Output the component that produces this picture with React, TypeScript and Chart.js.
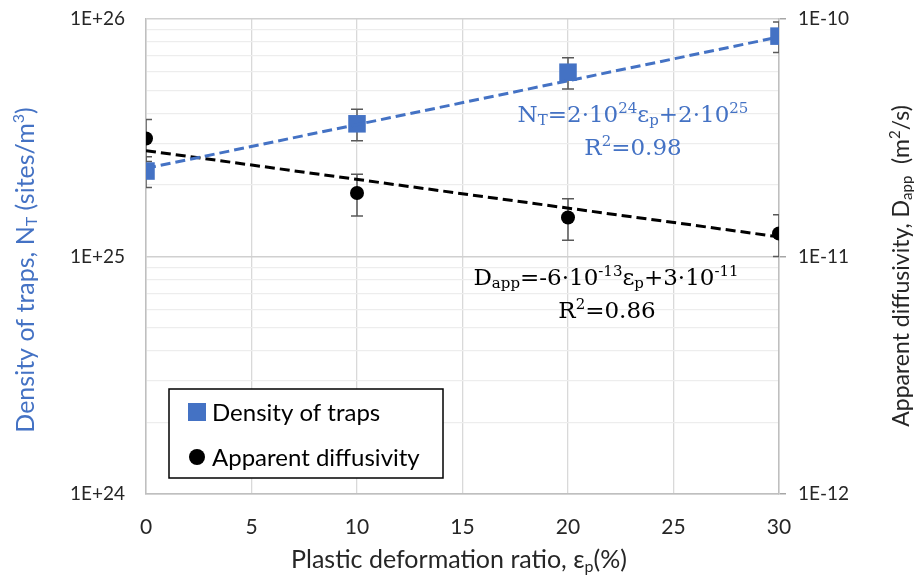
import { useEffect, useRef } from 'react';
import { Chart, registerables } from 'chart.js';

Chart.register(...registerables);

// Measured series: plastic strain (%) vs trap density and apparent diffusivity
const strainPct = [0, 10, 20, 30];
const trapDensity = [2.29e25, 3.62e25, 5.97e25, 8.47e25];
const trapDensityErr = [0.34e25, 0.55e25, 0.9e25, 1.25e25];
const appDiffusivity = [3.14e-11, 1.85e-11, 1.46e-11, 1.25e-11];
const appDiffusivityErr = [0.63e-11, 0.37e-11, 0.29e-11, 0.25e-11];

// Fitted trend lines (end points over the strain range)
const trendStrain = [0, 30];
const trapTrend = [2.35e25, 8.4e25];
const diffusivityTrend = [2.79e-11, 1.21e-11];

// Axis ranges (decade exponents) and x tick step
const leftDecades = [24, 26];
const rightDecades = [-12, -10];
const xRange = [0, 30];
const xTickStep = 5;

const BLUE = '#4472C4';
const SANS = 'Lato, "Liberation Sans", sans-serif';
const SERIF = '"DejaVu Serif", serif';

type Seg = { t: string; s?: 'sub' | 'sup' };

const isDecade = (v: number) => {
  const l = Math.log10(v);
  return Math.abs(l - Math.round(l)) < 1e-6;
};
const fmtDecade = (v: number) => {
  const e = Math.round(Math.log10(v));
  return `1E${e >= 0 ? '+' : ''}${e}`;
};

function logTicks(lo: number, hi: number) {
  const ticks: { value: number }[] = [];
  for (let e = lo; e < hi; e++) {
    for (let m = 1; m <= 9; m++) {
      ticks.push({ value: Number((m * Math.pow(10, e)).toPrecision(12)) });
    }
  }
  ticks.push({ value: Number(Math.pow(10, hi).toPrecision(12)) });
  return ticks;
}

function segFont(size: number, family: string, s?: string) {
  return `${s ? Math.round(size * 0.65) : size}px ${family}`;
}

function richWidth(ctx: CanvasRenderingContext2D, segs: Seg[], size: number, family: string) {
  let w = 0;
  for (const seg of segs) {
    ctx.font = segFont(size, family, seg.s);
    w += ctx.measureText(seg.t).width;
  }
  return w;
}

// Draws a run of text with sub/superscripts, centred on x, baseline at y
function drawRich(
  ctx: CanvasRenderingContext2D,
  segs: Seg[],
  x: number,
  y: number,
  size: number,
  family: string,
  color: string
) {
  const w = richWidth(ctx, segs, size, family);
  let cx = x - w / 2;
  ctx.fillStyle = color;
  ctx.textBaseline = 'alphabetic';
  ctx.textAlign = 'left';
  for (const seg of segs) {
    ctx.font = segFont(size, family, seg.s);
    const dy = seg.s === 'sup' ? -size * 0.38 : seg.s === 'sub' ? size * 0.14 : 0;
    ctx.fillText(seg.t, cx, y + dy);
    cx += ctx.measureText(seg.t).width;
  }
}

function drawRichRotated(
  ctx: CanvasRenderingContext2D,
  segs: Seg[],
  cx: number,
  cy: number,
  size: number,
  family: string,
  color: string
) {
  ctx.save();
  ctx.translate(cx, cy);
  ctx.rotate(-Math.PI / 2);
  drawRich(ctx, segs, 0, size * 0.35, size, family, color);
  ctx.restore();
}

const leftTitle: Seg[] = [
  { t: 'Density of traps, N' },
  { t: 'T', s: 'sub' },
  { t: ' (sites/m' },
  { t: '3', s: 'sup' },
  { t: ')' },
];
const rightTitle: Seg[] = [
  { t: 'Apparent diffusivity, D' },
  { t: 'app', s: 'sub' },
  { t: '  (m' },
  { t: '2', s: 'sup' },
  { t: '/s)' },
];
const xTitle: Seg[] = [
  { t: 'Plastic deformation ratio, ε' },
  { t: 'p', s: 'sub' },
  { t: '(%)' },
];
const trapEq: Seg[] = [
  { t: 'N' },
  { t: 'T', s: 'sub' },
  { t: '=2·10' },
  { t: '24', s: 'sup' },
  { t: 'ε' },
  { t: 'p', s: 'sub' },
  { t: '+2·10' },
  { t: '25', s: 'sup' },
];
const trapR2: Seg[] = [{ t: 'R' }, { t: '2', s: 'sup' }, { t: '=0.98' }];
const diffEq: Seg[] = [
  { t: 'D' },
  { t: 'app', s: 'sub' },
  { t: '=-6·10' },
  { t: '-13', s: 'sup' },
  { t: 'ε' },
  { t: 'p', s: 'sub' },
  { t: '+3·10' },
  { t: '-11', s: 'sup' },
];
const diffR2: Seg[] = [{ t: 'R' }, { t: '2', s: 'sup' }, { t: '=0.86' }];

const errorBarPlugin = {
  id: 'errorBars',
  beforeDatasetsDraw(chart: any) {
    const { ctx, chartArea } = chart;
    ctx.save();
    ctx.beginPath();
    ctx.rect(chartArea.left, chartArea.top, chartArea.right - chartArea.left, chartArea.bottom - chartArea.top);
    ctx.clip();
    chart.data.datasets.forEach((ds: any, i: number) => {
      if (!ds.errors) return;
      const meta = chart.getDatasetMeta(i);
      const ys = chart.scales[ds.yAxisID];
      const xs = chart.scales.x;
      ctx.strokeStyle = '#595959';
      ctx.lineWidth = 1.5;
      ds.data.forEach((p: any, j: number) => {
        if (!meta.data[j]) return;
        const e = ds.errors[j];
        const px = xs.getPixelForValue(p.x);
        const yTop = ys.getPixelForValue(p.y + e);
        const yBot = ys.getPixelForValue(p.y - e);
        ctx.beginPath();
        ctx.moveTo(px, yTop);
        ctx.lineTo(px, yBot);
        ctx.moveTo(px - 6, yTop);
        ctx.lineTo(px + 6, yTop);
        ctx.moveTo(px - 6, yBot);
        ctx.lineTo(px + 6, yBot);
        ctx.stroke();
      });
    });
    ctx.restore();
  },
};

const textPlugin = {
  id: 'chartText',
  afterDraw(chart: any) {
    const { ctx, chartArea } = chart;
    const L = chartArea.left;
    const T = chartArea.top;
    ctx.save();
    // axis titles
    drawRichRotated(ctx, leftTitle, 25, 270, 25, SANS, BLUE);
    drawRichRotated(ctx, rightTitle, 901, 266, 23, SANS, '#262626');
    drawRich(ctx, xTitle, 459, 568, 25, SANS, '#262626');

    // trend-line equations
    drawRich(ctx, trapEq, L + 487, T + 103, 23, SERIF, BLUE);
    drawRich(ctx, trapR2, L + 487, T + 136, 23, SERIF, BLUE);
    drawRich(ctx, diffEq, L + 460, T + 266, 23, SERIF, '#000000');
    drawRich(ctx, diffR2, L + 461, T + 299, 23, SERIF, '#000000');

    // legend box
    const bx = L + 23;
    const by = T + 370;
    const bw = 274;
    const bh = 89;
    ctx.fillStyle = '#ffffff';
    ctx.fillRect(bx, by, bw, bh);
    ctx.strokeStyle = '#000000';
    ctx.lineWidth = 1.5;
    ctx.strokeRect(bx, by, bw, bh);

    ctx.fillStyle = BLUE;
    ctx.fillRect(bx + 19, by + 14, 18, 18);
    ctx.fillStyle = '#000000';
    ctx.beginPath();
    ctx.arc(bx + 28, by + 68, 8, 0, Math.PI * 2);
    ctx.fill();

    ctx.font = `24px ${SANS}`;
    ctx.fillStyle = '#000000';
    ctx.textAlign = 'left';
    ctx.textBaseline = 'middle';
    ctx.fillText('Density of traps', bx + 43, by + 24);
    ctx.fillText('Apparent diffusivity', bx + 43, by + 69);
    ctx.restore();
  },
};

export default function App() {
  const ref = useRef<HTMLCanvasElement | null>(null);

  useEffect(() => {
    if (!ref.current) return;
    const chart = new Chart(ref.current, {
      type: 'scatter',
      data: {
        datasets: [
          {
            label: 'Density of traps trend',
            data: trendStrain.map((x, i) => ({ x, y: trapTrend[i] })),
            yAxisID: 'yL',
            showLine: true,
            borderColor: BLUE,
            borderWidth: 3,
            borderDash: [10, 5],
            pointRadius: 0,
            order: 0,
          },
          {
            label: 'Apparent diffusivity trend',
            data: trendStrain.map((x, i) => ({ x, y: diffusivityTrend[i] })),
            yAxisID: 'yR',
            showLine: true,
            borderColor: '#000000',
            borderWidth: 3,
            borderDash: [10, 5],
            pointRadius: 0,
            order: 1,
          },
          {
            label: 'Density of traps',
            data: strainPct.map((x, i) => ({ x, y: trapDensity[i] })),
            errors: trapDensityErr,
            yAxisID: 'yL',
            pointStyle: 'rect',
            pointRadius: 12.4,
            backgroundColor: BLUE,
            borderColor: BLUE,
            borderWidth: 0,
            order: 2,
          } as any,
          {
            label: 'Apparent diffusivity',
            data: strainPct.map((x, i) => ({ x, y: appDiffusivity[i] })),
            errors: appDiffusivityErr,
            yAxisID: 'yR',
            pointStyle: 'circle',
            pointRadius: 7,
            backgroundColor: '#000000',
            borderColor: '#000000',
            borderWidth: 0,
            order: 3,
          } as any,
        ],
      },
      options: {
        animation: false,
        responsive: false,
        layout: { padding: { top: 19, left: 0, right: 0, bottom: 0 } },
        plugins: { legend: { display: false }, tooltip: { enabled: false } },
        scales: {
          x: {
            type: 'linear',
            min: xRange[0],
            max: xRange[1],
            afterFit: (s: any) => {
              s.height = 92;
            },
            ticks: {
              stepSize: xTickStep,
              color: '#262626',
              font: { family: SANS, size: 21 },
              padding: 21,
            },
            grid: { color: '#d9d9d9', lineWidth: 1.3, drawTicks: false },
            border: { color: '#bfbfbf', width: 1.5 },
          },
          yL: {
            type: 'logarithmic',
            position: 'left',
            min: Math.pow(10, leftDecades[0]),
            max: Math.pow(10, leftDecades[1]),
            afterFit: (s: any) => {
              s.width = 146;
              s.paddingTop = 0;
              s.paddingBottom = 0;
            },
            afterBuildTicks: (s: any) => {
              s.ticks = logTicks(leftDecades[0], leftDecades[1]);
            },
            ticks: {
              autoSkip: false,
              color: '#262626',
              font: { family: SANS, size: 19 },
              padding: 21,
              callback: (v: any) => (isDecade(Number(v)) ? fmtDecade(Number(v)) : ''),
            },
            grid: {
              drawTicks: false,
              color: (c: any) => (c.tick && isDecade(c.tick.value) ? '#d0d0d0' : '#ededed'),
              lineWidth: (c: any) => (c.tick && isDecade(c.tick.value) ? 1.5 : 1.3),
            },
            border: { color: '#bfbfbf', width: 1.5 },
          },
          yR: {
            type: 'logarithmic',
            position: 'right',
            min: Math.pow(10, rightDecades[0]),
            max: Math.pow(10, rightDecades[1]),
            afterFit: (s: any) => {
              s.width = 135;
              s.paddingTop = 0;
              s.paddingBottom = 0;
            },
            afterBuildTicks: (s: any) => {
              s.ticks = logTicks(rightDecades[0], rightDecades[1]);
            },
            ticks: {
              autoSkip: false,
              color: '#262626',
              font: { family: SANS, size: 19 },
              padding: 12,
              callback: (v: any) => (isDecade(Number(v)) ? fmtDecade(Number(v)) : ''),
            },
            grid: {
              drawOnChartArea: false,
              drawTicks: true,
              tickLength: 7,
              color: (c: any) => (c.tick && isDecade(c.tick.value) ? '#a6a6a6' : 'rgba(0,0,0,0)'),
              lineWidth: 1.5,
            },
            border: { color: '#bfbfbf', width: 1.5 },
          },
        },
      },
      plugins: [errorBarPlugin, textPlugin],
    });
    return () => chart.destroy();
  }, []);

  return (
    <canvas
      ref={ref}
      width={914}
      height={586}
      style={{ position: 'fixed', left: 0, top: 0, display: 'block', background: '#ffffff' }}
    />
  );
}
